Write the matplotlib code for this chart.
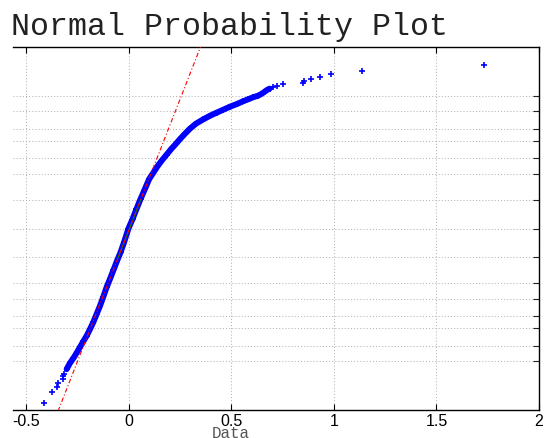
import numpy as np
import matplotlib
matplotlib.use('Agg')
from matplotlib import pyplot as plt
from statistics import NormalDist

# sorted data values (x) and their normal quantile (z)
low_x = [-0.410, -0.375, -0.350, -0.343, -0.321, -0.318, -0.313]
low_z = [-4.086, -3.829, -3.698, -3.612, -3.518, -3.441, -3.389]

body_x = [-0.302, -0.286, -0.269, -0.251, -0.237, -0.220, -0.204, -0.188, -0.172, -0.156,
          -0.139, -0.123, -0.107, -0.091, -0.074, -0.057, -0.039, -0.022, -0.001, 0.019,
          0.038, 0.058, 0.079, 0.100, 0.119, 0.141, 0.163, 0.185, 0.207, 0.229,
          0.250, 0.275, 0.299, 0.328, 0.363, 0.397, 0.429, 0.462, 0.494, 0.526,
          0.559, 0.584, 0.608, 0.631, 0.645, 0.660, 0.673, 0.687]
body_z = [-3.284, -3.144, -3.027, -2.887, -2.770, -2.630, -2.501, -2.349, -2.186, -1.999,
          -1.800, -1.590, -1.367, -1.180, -0.970, -0.760, -0.549, -0.316, 0.0, 0.222,
          0.456, 0.690, 0.923, 1.157, 1.297, 1.461, 1.601, 1.730, 1.858, 1.975,
          2.092, 2.221, 2.338, 2.454, 2.553, 2.641, 2.712, 2.782, 2.852, 2.910,
          2.980, 3.027, 3.074, 3.109, 3.144, 3.191, 3.237, 3.273]

high_x = [0.704, 0.722, 0.754, 0.851, 0.856, 0.889, 0.934, 0.986, 1.136, 1.733]
high_z = [3.301, 3.324, 3.371, 3.394, 3.441, 3.488, 3.534, 3.605, 3.689, 3.815]

# quartiles of the data, the reference line goes through them
q25, q75 = -0.051, 0.059

prob_ticks = [0.001, 0.003, 0.01, 0.02, 0.05, 0.10, 0.25, 0.50,
              0.75, 0.90, 0.95, 0.98, 0.99, 0.997, 0.999]
x_ticks = [-0.5, 0, 0.5, 1, 1.5, 2]
x_labels = ['-0.5', '0', '0.5', '1', '1.5', '2']

W, H = 544, 439
nd = NormalDist()

fig = plt.figure(figsize=(W / 100, H / 100), dpi=100)
ax = fig.add_axes([13 / W, (H - 411) / H, 526 / W, (411 - 48.3) / H])

grid_kw = dict(color='#b4b4b4', lw=0.75, ls=(0, (1, 2)), zorder=0)
ax.set_xlim(-0.5634, 2.0)
ax.set_ylim(-4.24, 4.24)
ax.set_xticks(x_ticks)
ax.set_xticklabels(x_labels, family='Liberation Sans', fontsize=11.5)
ax.set_yticks([nd.inv_cdf(p) for p in prob_ticks])
ax.grid(True, **grid_kw)

ax.tick_params(axis='x', direction='in', length=4.5, width=0.8, top=True, bottom=True,
               pad=2, colors='black')
ax.tick_params(axis='y', direction='in', length=4.3, width=0.8, left=False, right=True,
               labelleft=False, colors='#222222')
ax.spines['left'].set_visible(False)
for s in ['top', 'bottom', 'right']:
    ax.spines[s].set_linewidth(1.0)

blue = (0, 0, 1)
ax.plot(body_x, body_z, '-', color=blue, lw=4.3, solid_capstyle='round',
        solid_joinstyle='round', zorder=2)
all_x = low_x + body_x + high_x
all_z = low_z + body_z + high_z
ax.plot(all_x, all_z, '+', color=blue, ms=4.5, mew=1.2, zorder=3)

# fitted line through the quartiles
z25, z75 = nd.inv_cdf(0.25), nd.inv_cdf(0.75)
slope = (z75 - z25) / (q75 - q25)
ax.plot([q25, q75], [z25, z75], '-', color=(0, 0.5, 0), lw=0.9, zorder=4)
xa, xb = min(all_x), max(all_x)
ax.plot([xa, xb], [z25 + (xa - q25) * slope, z25 + (xb - q25) * slope],
        color='red', lw=0.8, ls=(0, (4, 2, 1, 2)), zorder=5)

fig.text(11 / W, 1 - 35 / H, 'Normal Probability Plot', family='Liberation Mono',
         fontsize=22.8, va='baseline', ha='left', color='#222222')
fig.text(231 / W, 1 - 438 / H, 'Data', family='Liberation Mono', fontsize=11.4,
         va='baseline', ha='center', color='#555555')

fig.savefig('out.png', dpi=100)
